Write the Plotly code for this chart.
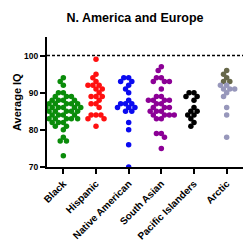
import math
import plotly.graph_objects as go

categories = ["Black", "Hispanic", "Native American", "South Asian", "Pacific Islanders", "Arctic"]

black = [94, 93, 92, 90, 90, 89, 89, 89, 88, 88, 88, 88, 87, 87, 87, 87, 87, 86, 86, 86, 86, 86, 86,
         85, 85, 85, 85, 85, 84, 84, 84, 84, 83, 83, 83, 83, 83, 82, 82, 82, 81, 81, 80, 78, 77, 77, 73]
hispanic = [99, 95, 94, 93, 92, 92, 92, 91, 91, 90, 89, 89, 89, 88, 87, 87, 86, 84, 84, 84, 83, 83, 81]
native_american = [94, 94, 93, 93, 92, 91, 90, 88, 87, 87, 87, 86, 86, 86, 85, 85, 82, 80, 76, 70]
south_asian = [97, 96, 94, 94, 93, 93, 93, 91, 89, 89, 88, 88, 88, 88, 87, 87, 86, 86, 86, 85, 85, 85,
               84, 84, 84, 84, 83, 83, 79, 79, 78, 75]
pacific_islanders = [90, 90, 89, 89, 88, 86, 85, 85, 84, 84, 83, 82, 81]
arctic_a = [96, 95, 94, 93, 93]
arctic_b = [92, 92, 91, 91, 91, 90, 89, 86, 84, 78]

reference_line = 100

groups = [
    (black, "#0a8c0a"),
    (hispanic, "#ff1010"),
    (native_american, "#0a0af0"),
    (south_asian, "#8c0096"),
    (pacific_islanders, "#000000"),
]

# plot geometry used only to compute the beeswarm spread
PX_PER_X = 196 / 6.0
PX_PER_Y = 132 / 35.0
DIAM = 4.9


def beeswarm(values):
    placed = []
    offsets = []
    for v in values:
        y = v * PX_PER_Y
        forb = []
        for (px, py) in placed:
            dy = abs(py - y)
            if dy < DIAM:
                w = math.sqrt(DIAM ** 2 - dy ** 2)
                forb.append((px - w, px + w))
        cands = [0.0] + [a for a, b in forb] + [b for a, b in forb]
        cands.sort(key=lambda c: (abs(c), c))
        chosen = 0.0
        for c in cands:
            if all(not (a + 1e-6 < c < b - 1e-6) for a, b in forb):
                chosen = c
                break
        placed.append((chosen, y))
        offsets.append(chosen / PX_PER_X)
    return offsets


fig = go.Figure()
for i, (vals, col) in enumerate(groups):
    offs = beeswarm(vals)
    fig.add_trace(go.Scatter(
        x=[i + o for o in offs], y=vals, mode="markers",
        marker=dict(color=col, size=5.5, line=dict(width=0)),
        showlegend=False, hoverinfo="y"))

arctic_vals = arctic_a + arctic_b
arctic_cols = ["#67684a"] * len(arctic_a) + ["#9797bb"] * len(arctic_b)
offs = beeswarm(arctic_vals)
fig.add_trace(go.Scatter(
    x=[5 + o for o in offs], y=arctic_vals, mode="markers",
    marker=dict(color=arctic_cols, size=5.5, line=dict(width=0)),
    showlegend=False, hoverinfo="y"))

fig.add_shape(type="line", xref="paper", x0=0, x1=1, yref="y", y0=reference_line, y1=reference_line,
              line=dict(color="black", width=1.6, dash="3px,2px"))

font_family = "Arial, Liberation Sans, sans-serif"
fig.add_annotation(text="<b>Average IQ</b>", xref="paper", yref="paper", x=-30 / 196, y=0.5,
                   xanchor="center", yanchor="middle", textangle=-90, showarrow=False,
                   font=dict(size=11, family=font_family, color="black"))
fig.update_layout(
    width=250, height=249,
    margin=dict(l=47, r=7, t=37, b=80),
    paper_bgcolor="white", plot_bgcolor="white",
    title=dict(text="<b>N. America and Europe</b>", x=0.54, xanchor="center", y=0.93, yanchor="middle",
               font=dict(family=font_family, size=12.5, color="black")),
    font=dict(family=font_family, color="black"),
    xaxis=dict(range=[-0.5, 5.5], tickmode="array", tickvals=list(range(len(categories))),
               ticktext=["<b>%s</b>" % c for c in categories], tickangle=-45,
               showline=True, linecolor="black", linewidth=2, ticks="outside", ticklen=5,
               tickwidth=1.5, tickcolor="black", showgrid=False, zeroline=False,
               tickfont=dict(size=10, family=font_family, color="black")),
    yaxis=dict(range=[70, 105], tickvals=[70, 80, 90, 100],
               ticktext=["<b>70</b>", "<b>80</b>", "<b>90</b>", "<b>100</b>"],
               showline=True, linecolor="black", linewidth=2, ticks="outside", ticklen=5,
               tickwidth=1.5, tickcolor="black", showgrid=False, zeroline=False,
               tickfont=dict(size=8.5, family=font_family, color="black")),
)

fig.write_html("out.html")
